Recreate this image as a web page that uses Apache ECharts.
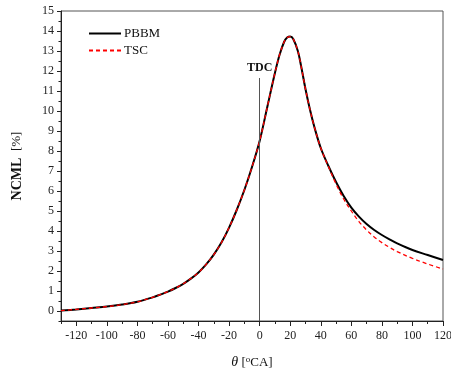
<!DOCTYPE html>
<html>
<head>
<meta charset="utf-8">
<script src="https://cdn.jsdelivr.net/npm/echarts@6/dist/echarts.min.js"></script>
<style>html,body{margin:0;padding:0;background:#fff;}#c{width:451px;height:372px;}</style>
</head>
<body>
<div id="c"></div>
<script>
// Data
const theta = [-130,-120,-110,-100,-90,-80,-70,-65,-60,-55,-50,-45,-40,-35,-30,-25,-20,-15,-10,-5,0,5,10,13,16,18,20,22,25,27,30,33,36,40,45,50,55,60,65,70,75,80,85,90,100,110,120];
const pbbm  = [0.02,0.08,0.15,0.22,0.32,0.46,0.68,0.82,0.97,1.15,1.36,1.62,1.93,2.33,2.82,3.42,4.17,5.05,6.05,7.2,8.5,10.2,11.9,12.8,13.45,13.67,13.72,13.6,13.0,12.3,11.1,10.05,9.15,8.15,7.25,6.45,5.75,5.17,4.72,4.35,4.05,3.8,3.58,3.38,3.05,2.8,2.55];
const tsc   = [0.02,0.08,0.15,0.22,0.32,0.46,0.68,0.82,0.97,1.15,1.36,1.62,1.93,2.33,2.82,3.42,4.17,5.05,6.05,7.2,8.5,10.2,11.9,12.8,13.45,13.67,13.72,13.6,13.0,12.3,11.1,10.05,9.15,8.15,7.22,6.35,5.6,5.0,4.47,4.05,3.7,3.42,3.18,2.97,2.63,2.35,2.1];
const xMajorTicks = [-120,-100,-80,-60,-40,-20,0,20,40,60,80,100,120];
const xMinorTicks = [-130,-110,-90,-70,-50,-30,-10,10,30,50,70,90,110];
const yMajorTicks = [0,1,2,3,4,5,6,7,8,9,10,11,12,13,14,15];
const yMinorTicks = [-0.5,0.5,1.5,2.5,3.5,4.5,5.5,6.5,7.5,8.5,9.5,10.5,11.5,12.5,13.5,14.5];
const tdc = {x: 0, yStart: -0.5, yEnd: 11.65, label: 'TDC'};

const FONT = '"Liberation Serif","Times New Roman",serif';
const chart = echarts.init(document.getElementById('c'), null, {renderer: 'canvas'});
const xRange = {min: -130, max: 120};
const yRange = {min: -0.5, max: 15};
const axisColor = '#222';

chart.setOption({
  animation: false,
  backgroundColor: '#fff',
  grid: {left: 61, right: 8, top: 11, bottom: 51, outerBoundsMode: 'none', containLabel: false,
         show: true, borderColor: '#555', borderWidth: 1, backgroundColor: 'transparent'},
  legend: {
    orient: 'vertical', left: 83, top: 22, itemWidth: 32, itemHeight: 14, itemGap: 4,
    textStyle: {fontFamily: FONT, fontSize: 13, color: '#111', padding: [0,0,0,-2]},
    itemStyle: {color: 'transparent', borderWidth: 0, opacity: 0},
    data: ['PBBM', 'TSC']
  },
  xAxis: [
    {
      type: 'value', ...xRange, position: 'bottom',
      name: '{i|θ} [{s|o}CA]', nameLocation: 'middle', nameGap: 34,
      nameTextStyle: {fontFamily: FONT, fontSize: 13, color: '#111',
        rich: {i: {fontFamily: FONT, fontStyle: 'italic', fontSize: 14, color: '#111'},
               s: {fontFamily: FONT, fontSize: 9, color: '#111', verticalAlign: 'top', padding: [0,0,6,0]}}},
      axisLine: {show: true, onZero: false, lineStyle: {color: axisColor, width: 1}},
      axisTick: {show: true, inside: false, length: 5, lineStyle: {color: axisColor}, customValues: xMajorTicks},
      axisLabel: {fontFamily: FONT, fontSize: 12, color: '#222', margin: 9, customValues: xMajorTicks},
      splitLine: {show: false}
    },
    {
      type: 'value', ...xRange, position: 'bottom',
      axisLine: {show: false, onZero: false},
      axisTick: {show: true, inside: false, length: 3, lineStyle: {color: axisColor}, customValues: xMinorTicks},
      axisLabel: {show: false},
      splitLine: {show: false}
    }
  ],
  yAxis: [
    {
      type: 'value', ...yRange, position: 'left',
      name: '{b|NCML}  {n|[%]}', nameLocation: 'middle', nameGap: 37, nameRotate: 90,
      nameTextStyle: {fontFamily: FONT, fontSize: 13, color: '#111',
        rich: {b: {fontFamily: FONT, fontWeight: 'bold', fontSize: 14, color: '#111'},
               n: {fontFamily: FONT, fontSize: 13, color: '#111'}}},
      axisLine: {show: true, onZero: false, lineStyle: {color: axisColor, width: 1}},
      axisTick: {show: true, inside: false, length: 4, lineStyle: {color: axisColor}, customValues: yMajorTicks},
      axisLabel: {fontFamily: FONT, fontSize: 12, color: '#222', margin: 7, customValues: yMajorTicks},
      splitLine: {show: false}
    },
    {
      type: 'value', ...yRange, position: 'left',
      axisLine: {show: false, onZero: false},
      axisTick: {show: true, inside: false, length: 2.5, lineStyle: {color: axisColor}, customValues: yMinorTicks},
      axisLabel: {show: false},
      splitLine: {show: false}
    }
  ],
  series: [
    {
      name: 'PBBM', type: 'line', xAxisIndex: 0, yAxisIndex: 0,
      data: theta.map((t, i) => [t, pbbm[i]]),
      smooth: 0.35, symbol: 'none', z: 2,
      lineStyle: {color: '#000', width: 2},
      itemStyle: {color: '#000'},
      markLine: {
        silent: true, symbol: 'none', animation: false,
        lineStyle: {color: '#555', width: 1, type: 'solid'},
        label: {show: true, position: 'end', formatter: tdc.label, fontFamily: FONT, fontWeight: 'bold', fontSize: 12, color: '#111', distance: 4},
        data: [[{coord: [tdc.x, tdc.yStart]}, {coord: [tdc.x, tdc.yEnd]}]]
      }
    },
    {
      name: 'TSC', type: 'line', xAxisIndex: 0, yAxisIndex: 0,
      data: theta.map((t, i) => [t, tsc[i]]),
      smooth: 0.35, symbol: 'none', z: 3,
      lineStyle: {color: '#ff0000', width: 1.3, type: [4, 3]},
      itemStyle: {color: '#ff0000'}
    }
  ]
});
</script>
</body>
</html>
